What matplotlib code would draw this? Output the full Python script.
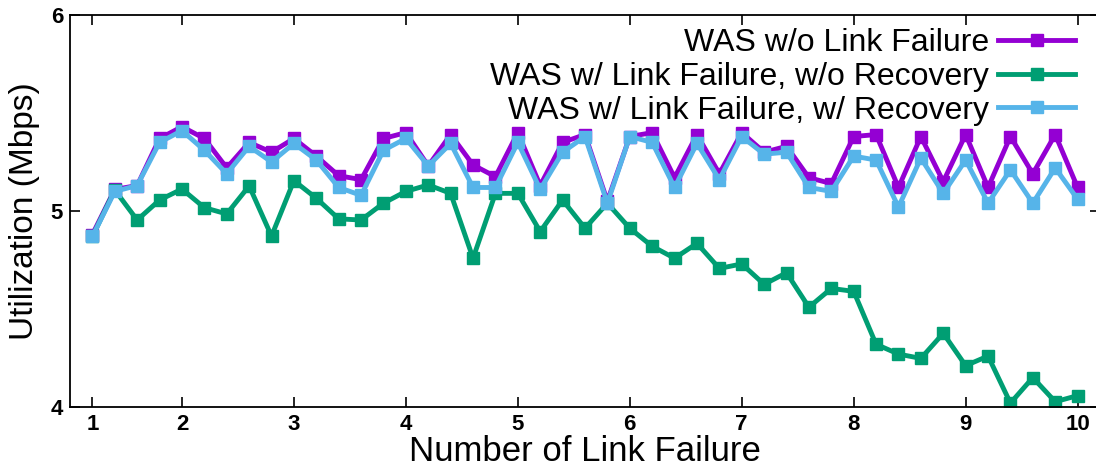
import matplotlib
matplotlib.use('Agg')
import matplotlib.pyplot as plt

plt.rcParams['font.family'] = ['Liberation Sans', 'DejaVu Sans']

# x = failure index, labelled 1..10 on the axis
failures = list(range(1, 46))
tick_pos = [1, 5, 10, 15, 20, 25, 30, 35, 40, 45]
tick_labels = ['1', '2', '3', '4', '5', '6', '7', '8', '9', '10']

no_failure = [4.88, 5.11, 5.13, 5.37, 5.43, 5.37, 5.22, 5.35, 5.30, 5.37,
              5.28, 5.18, 5.16, 5.37, 5.40, 5.23, 5.39, 5.235, 5.175, 5.40,
              5.13, 5.35, 5.39, 5.05, 5.38, 5.40, 5.17, 5.39, 5.19, 5.40,
              5.30, 5.33, 5.17, 5.14, 5.38, 5.39, 5.12, 5.38, 5.15, 5.39,
              5.12, 5.38, 5.19, 5.39, 5.12]
no_recovery = [4.87, 5.107, 4.954, 5.056, 5.112, 5.017, 4.985, 5.128, 4.872, 5.155,
               5.065, 4.96, 4.954, 5.04, 5.10, 5.133, 5.09, 4.759, 5.09, 5.09,
               4.895, 5.056, 4.912, 5.04, 4.912, 4.82, 4.759, 4.835, 4.707, 4.73,
               4.626, 4.685, 4.509, 4.605, 4.59, 4.32, 4.27, 4.248, 4.376, 4.211,
               4.26, 4.02, 4.15, 4.027, 4.058]
with_recovery = [4.87, 5.10, 5.13, 5.35, 5.41, 5.31, 5.19, 5.33, 5.25, 5.345,
                 5.26, 5.12, 5.08, 5.31, 5.37, 5.23, 5.345, 5.12, 5.12, 5.35,
                 5.11, 5.30, 5.38, 5.04, 5.38, 5.35, 5.12, 5.345, 5.16, 5.38,
                 5.29, 5.30, 5.12, 5.10, 5.28, 5.26, 5.02, 5.27, 5.09, 5.26,
                 5.04, 5.21, 5.04, 5.22, 5.06]

fig = plt.figure(figsize=(10.96, 4.72), dpi=100)
ax = fig.add_axes([70/1096, 1-407/472, 1030/1096, 392/472])

style = dict(marker='s', lw=3.5, ms=8)
ax.plot(failures, no_failure, color='#9400D3', label='WAS w/o Link Failure', **style)
ax.plot(failures, no_recovery, color='#009E73', label='WAS w/ Link Failure, w/o Recovery', **style)
ax.plot(failures, with_recovery, color='#56B4E9', label='WAS w/ Link Failure, w/ Recovery', **style)

ax.set_xlim(0, 46)
ax.set_ylim(4, 6)
ax.set_xticks(tick_pos)
ax.set_xticklabels(tick_labels)
ax.set_yticks([4, 5, 6])
ax.tick_params(direction='in', length=7, width=1.2, top=True, right=True,
               labelsize=16, pad=5)
for lbl in ax.get_xticklabels() + ax.get_yticklabels():
    lbl.set_fontweight('bold')
for s in ax.spines.values():
    s.set_linewidth(1.3)

ax.set_xlabel('Number of Link Failure', fontsize=25, labelpad=0)
ax.set_ylabel('Utilization (Mbps)', fontsize=24, labelpad=8)

ax.legend(loc='upper right', bbox_to_anchor=(1075/1030 - 70/1030, 379/392),
          frameon=False, markerfirst=False, fontsize=23, handlelength=2.4,
          handletextpad=0.3, labelspacing=0.12, borderpad=0, borderaxespad=0)

plt.savefig('out.png', dpi=100)
